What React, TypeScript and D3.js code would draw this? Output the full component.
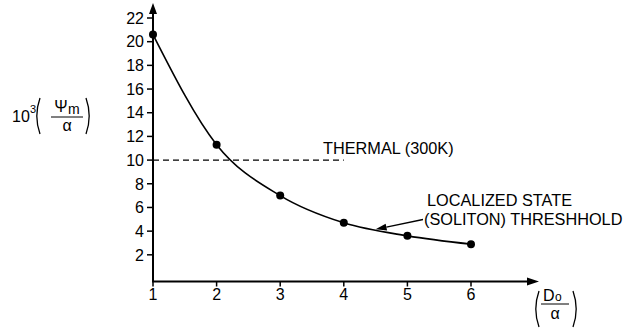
import React from "react";
import * as d3 from "d3";

const xValues = [1, 2, 3, 4, 5, 6];
const yValues = [20.6, 11.3, 7.0, 4.7, 3.6, 2.9];
const yTicks = [2, 4, 6, 8, 10, 12, 14, 16, 18, 20, 22];
const xTicks = [1, 2, 3, 4, 5, 6];
const thermalLevel = 10;
const thermalEndX = 4.0;
const thermalLabel = "THERMAL (300K)";
const solitonLabel = ["LOCALIZED STATE", "(SOLITON) THRESHHOLD"];
const arrowTarget = { x: 4.5, y: 4.15 };

const W = 643;
const H = 328;
const FONT = "'Liberation Sans', Arial, Helvetica, sans-serif";

function paren(cx: number, top: number, bottom: number, left: boolean) {
  const bulge = left ? -4 : 4;
  const mid = (top + bottom) / 2;
  return `M${cx},${top} Q${cx + bulge * 1.6},${mid} ${cx},${bottom}`;
}

export default function App() {
  const x = d3.scaleLinear().domain([1, 6]).range([153, 471]);
  const y = d3.scaleLinear().domain([0, 22]).range([278.5, 18]);
  const axisY = 281.5;
  const axisX = 153;

  const line = d3
    .line<number>()
    .x((_, i) => x(xValues[i]))
    .y((d) => y(d))
    .curve(d3.curveMonotoneX);

  const pts = xValues.map((v, i) => ({ v, w: yValues[i] }));

  const tipX = x(arrowTarget.x);
  const tipY = y(arrowTarget.y);
  const tailX = 423;
  const tailY = 219.5;
  const dx = tailX - tipX;
  const dy = tailY - tipY;
  const len = Math.sqrt(dx * dx + dy * dy);
  const ux = dx / len;
  const uy = dy / len;
  const hl = 11;
  const hw = 3.5;
  const bx = tipX + ux * hl;
  const by = tipY + uy * hl;
  const head = `M${tipX},${tipY} L${bx - uy * hw},${by + ux * hw} L${bx + uy * hw},${by - ux * hw} Z`;

  return (
    <svg width={W} height={H} style={{ position: "absolute", left: 0, top: 0, background: "#fff" }} fontFamily={FONT}>
      <rect x={0} y={0} width={W} height={H} fill="#fff" />
      {/* y axis */}
      <line x1={axisX} y1={axisY} x2={axisX} y2={10} stroke="#000" strokeWidth={2} />
      <path d={`M${axisX},3 L${axisX - 4},14 L${axisX + 4},14 Z`} fill="#000" />
      {yTicks.map((t) => (
        <g key={"yt" + t}>
          <line x1={axisX - 6} x2={axisX} y1={y(t)} y2={y(t)} stroke="#000" strokeWidth={1.5} />
          <text x={axisX - 9} y={y(t)} dy="0.36em" textAnchor="end" fontSize={16}>
            {t}
          </text>
        </g>
      ))}
      {/* x axis */}
      <line x1={axisX - 1} y1={axisY} x2={530} y2={axisY} stroke="#000" strokeWidth={2} />
      <path d={`M539,${axisY} L527,${axisY - 4} L527,${axisY + 4} Z`} fill="#000" />
      {xTicks.map((t) => (
        <g key={"xt" + t}>
          <line x1={x(t)} x2={x(t)} y1={axisY} y2={axisY + 5} stroke="#000" strokeWidth={1.5} />
          <text x={x(t)} y={300} textAnchor="middle" fontSize={16}>
            {t}
          </text>
        </g>
      ))}
      {/* thermal line */}
      <line
        x1={axisX}
        x2={x(thermalEndX)}
        y1={y(thermalLevel)}
        y2={y(thermalLevel)}
        stroke="#000"
        strokeWidth={1.2}
        strokeDasharray="6,4"
      />
      <text x={323} y={154} fontSize={16.3}>
        {thermalLabel}
      </text>
      {/* curve */}
      <path d={line(yValues) || ""} fill="none" stroke="#000" strokeWidth={1.6} />
      {pts.map((p) => (
        <circle key={"p" + p.v} cx={x(p.v)} cy={y(p.w)} r={4} fill="#000" />
      ))}
      {/* soliton label */}
      <text x={427} y={206} fontSize={16.3}>
        {solitonLabel[0]}
      </text>
      <text x={424} y={225} fontSize={16.3}>
        {solitonLabel[1]}
      </text>
      <line x1={tailX} y1={tailY} x2={bx} y2={by} stroke="#000" strokeWidth={1.3} />
      <path d={head} fill="#000" />
      {/* y label */}
      <g fontSize={16}>
        <text x={12} y={122}>10</text>
        <text x={30} y={113} fontSize={11}>3</text>
        <path d={paren(40, 98, 134, true)} fill="none" stroke="#000" strokeWidth={1.3} />
        <text x={61} y={112} textAnchor="middle">Ψ</text>
        <text x={68} y={114} fontSize={14}>m</text>
        <line x1={51} x2={83} y1={117} y2={117} stroke="#000" strokeWidth={1} />
        <text x={67} y={131} textAnchor="middle">α</text>
        <path d={paren(86, 98, 134, false)} fill="none" stroke="#000" strokeWidth={1.3} />
      </g>
      {/* x label */}
      <g fontSize={16}>
        <path d={paren(539, 291, 327, true)} fill="none" stroke="#000" strokeWidth={1.3} />
        <text x={543} y={301}>D</text>
        <text x={555} y={301} fontSize={12}>o</text>
        <line x1={541} x2={569} y1={304} y2={304} stroke="#000" strokeWidth={1} />
        <text x={555} y={319} textAnchor="middle">α</text>
        <path d={paren(573, 291, 327, false)} fill="none" stroke="#000" strokeWidth={1.3} />
      </g>
    </svg>
  );
}
